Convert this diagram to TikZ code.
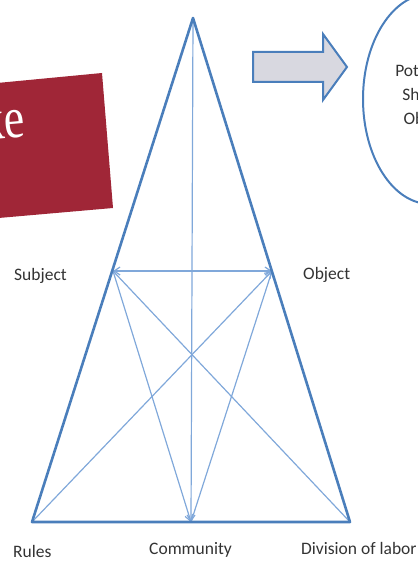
\documentclass[tikz,border=0pt]{standalone}
\usepackage{fontspec}
\newfontfamily\labfont{Carlito}
\newfontfamily\boxfont{Liberation Serif}
\usetikzlibrary{arrows.meta,shapes.geometric}
\definecolor{triblue}{RGB}{74,126,187}
\definecolor{lineblue}{RGB}{128,168,218}
\definecolor{boxred}{RGB}{160,38,55}
\definecolor{arrowfill}{RGB}{216,216,224}
\tikzset{
  frame/.style={draw=triblue, line width=2.6pt, line join=round},
  link/.style={draw=lineblue, line width=1.2pt},
  tip/.style={-{Straight Barb[length=6pt,width=8pt]}},
  biptip/.style={{Straight Barb[length=6pt,width=8pt]}-{Straight Barb[length=6pt,width=8pt]}},
  lab/.style={font=\labfont\fontsize{17.5}{21}\selectfont, text=black!80, inner sep=0pt},
}
\begin{document}
\begin{tikzpicture}[x=1pt,y=-1pt]
\useasboundingbox (0,0) rectangle (417,561);
% red box
\fill[boxred] (-30,85.6) -- (102,73) -- (113,208) -- (-30,220.5) -- cycle;
\node[anchor=base east, rotate=5, inner sep=0pt, text=white,
      font=\boxfont\fontsize{58}{60}\selectfont] (boxtext) at (26,137) {\scalebox{0.8}[1]{ke}};
% points
\coordinate (apex) at (193,18);
\coordinate (subj) at (113,271);
\coordinate (obj) at (272,271);
\coordinate (rules) at (32,522);
\coordinate (comm) at (191,522);
\coordinate (div) at (350,522);
% inner connectors
\draw[link,tip] (apex) -- (comm);
\draw[link,biptip] (subj) -- (obj);
\draw[link,tip] (subj) -- (comm);
\draw[link,tip] (comm) -- (obj);
\draw[link,tip] (rules) -- (obj);
\draw[link] (subj) -- (div);
% triangle
\draw[frame] (apex) -- (rules) -- (div) -- cycle;
% labels
\node[lab, anchor=base west] (lsubj) at (14,280) {Subject};
\node[lab, anchor=base west] (lobj) at (303,279) {Object};
\node[lab, anchor=base west] (lrules) at (13,557) {Rules};
\node[lab, anchor=base west] (lcomm) at (149,554) {Community};
\node[lab, anchor=base west] (ldiv) at (301,554) {Division of labor};
% block arrow
\draw[draw=triblue, line width=2pt, fill=arrowfill, line join=miter]
  (253,52) -- (323,52) -- (323,34) -- (347,67) -- (323,100) -- (323,82) -- (253,82) -- cycle;
% ellipse
\node[draw=triblue, line width=2pt, ellipse, minimum width=134pt, minimum height=210pt, inner sep=0pt] (goal) at (430,99) {};
\node[lab, align=center, font=\labfont\fontsize{17.5}{24}\selectfont] (goaltext) at (427,96) {Potential\\Shared\\Object};
\end{tikzpicture}
\end{document}
